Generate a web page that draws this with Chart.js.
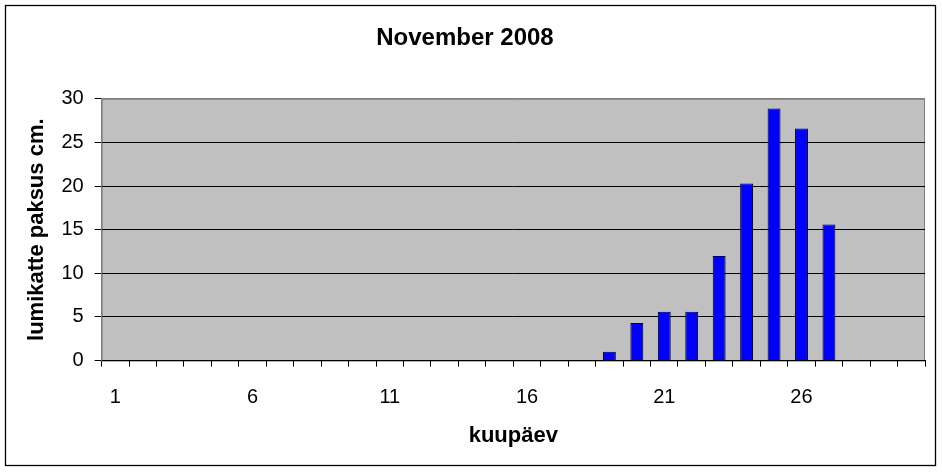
<!DOCTYPE html>
<html>
<head>
<meta charset="utf-8">
<script src="https://cdn.jsdelivr.net/npm/chart.js@4/dist/chart.umd.min.js"></script>
<style>
  html, body { margin: 0; padding: 0; background: #fff; }
  canvas { display: block; }
</style>
</head>
<body>
<canvas id="snowChart" width="942" height="472"></canvas>
<script>
// lumikatte paksus, november 2008
const days = ['1','2','3','4','5','6','7','8','9','10','11','12','13','14','15',
              '16','17','18','19','20','21','22','23','24','25','26','27','28','29','30'];
const snowDepth = [null, null, null, null, null, null, null, null, null, null,
                   null, null, null, null, null, null, null, null,
                   1, 4.3, 5.6, 5.6, 12, 20.3, 28.9, 26.6, 15.6,
                   null, null, null];
const yTicks = [0, 5, 10, 15, 20, 25, 30];

const font = "'Liberation Sans', Arial, sans-serif";

// grey plot background + outer frame
const framePlugin = {
  id: 'frame',
  beforeDraw(chart) {
    const { ctx, chartArea: a } = chart;
    ctx.save();
    ctx.fillStyle = '#ffffff';
    ctx.fillRect(0, 0, chart.width, chart.height);
    ctx.fillStyle = '#c0c0c0';
    ctx.fillRect(a.left, a.top, a.right - a.left, a.bottom - a.top);
    ctx.strokeStyle = '#808080';
    ctx.lineWidth = 1;
    ctx.strokeRect(a.left + 0.5, a.top + 0.5, a.right - a.left - 1, a.bottom - a.top);
    ctx.restore();
  },
  afterDraw(chart) {
    const ctx = chart.ctx;
    ctx.save();
    ctx.strokeStyle = '#000';
    ctx.lineWidth = 1.3;
    ctx.strokeRect(5.5, 5.5, 930, 460);
    ctx.restore();
  }
};

new Chart(document.getElementById('snowChart').getContext('2d'), {
  type: 'bar',
  data: {
    labels: days,
    datasets: [{
      label: 'lumikatte paksus cm.',
      data: snowDepth,
      backgroundColor: '#0000ff',
      borderColor: '#000000',
      borderWidth: 1,
      borderSkipped: 'start',
      barPercentage: 0.47,
      categoryPercentage: 1
    }]
  },
  options: {
    responsive: false,
    animation: false,
    layout: { padding: { left: 5, right: 17, top: 0, bottom: 0 } },
    plugins: {
      legend: { display: false },
      tooltip: { enabled: false },
      title: {
        display: true,
        text: 'November 2008',
        color: '#000',
        font: { family: font, size: 24, weight: 'bold' },
        padding: { top: 24, bottom: 46 }
      }
    },
    scales: {
      x: {
        offset: true,
        grid: {
          offset: true,
          drawOnChartArea: false,
          drawTicks: true,
          tickLength: 6,
          tickColor: '#000'
        },
        border: { display: true, color: '#000', width: 1 },
        ticks: {
          autoSkip: false,
          maxRotation: 0,
          padding: 19,
          color: '#000',
          font: { family: font, size: 20 },
          callback: function (val, i) { return i % 5 === 0 ? days[i] : ''; }
        },
        title: {
          display: true,
          text: 'kuupäev',
          color: '#000',
          font: { family: font, size: 22, weight: 'bold' },
          padding: { top: -6, bottom: 23 }
        }
      },
      y: {
        min: 0,
        max: 30,
        afterBuildTicks: function (scale) {
          scale.ticks = yTicks.map(v => ({ value: v }));
        },
        grid: {
          color: ctx => (ctx.tick && ctx.tick.value === 30 ? '#808080' : '#000'),
          lineWidth: 1,
          drawTicks: true,
          tickLength: 7,
          tickColor: '#000'
        },
        border: { display: true, color: '#808080', width: 1 },
        ticks: {
          padding: 11,
          color: '#000',
          font: { family: font, size: 20 }
        },
        title: {
          display: true,
          text: 'lumikatte paksus cm.',
          color: '#000',
          font: { family: font, size: 22, weight: 'bold' },
          padding: { top: 19, bottom: 0 }
        }
      }
    }
  },
  plugins: [framePlugin]
});
</script>
</body>
</html>
